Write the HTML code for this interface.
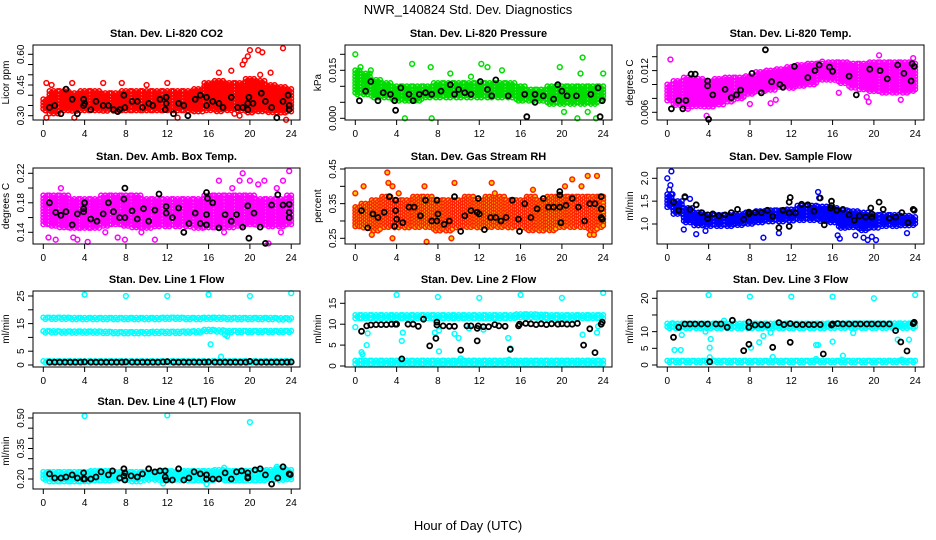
<!DOCTYPE html>
<html><head><meta charset="utf-8"><style>
html,body{margin:0;padding:0;background:#fff}
svg{display:block;font-family:"Liberation Sans",Arial,sans-serif}
</style></head><body>
<svg id="chart" width="936" height="540" viewBox="0 0 936 540">
<text x="468" y="14" text-anchor="middle" font-size="13">NWR_140824 Std. Dev. Diagnostics</text>
<text x="468" y="530" text-anchor="middle" font-size="13">Hour of Day (UTC)</text>
</svg>
<script>
// ---------- data ----------
const hours = [0,1,2,3,4,5,6,7,8,9,10,11,12,13,14,15,16,17,18,19,20,21,22,23,24];
const xTicks = [0,4,8,12,16,20,24];

const co2Lo = [0.32,0.31,0.32,0.32,0.32,0.32,0.32,0.32,0.32,0.32,0.32,0.32,0.32,0.32,0.32,0.32,0.32,0.32,0.32,0.32,0.31,0.32,0.31,0.31,0.32];
const co2Hi = [0.38,0.42,0.42,0.41,0.42,0.42,0.41,0.41,0.42,0.42,0.42,0.42,0.42,0.42,0.42,0.43,0.46,0.47,0.46,0.46,0.48,0.47,0.45,0.44,0.43];
const co2Out = [[0.3,0.46],[0.8,0.45],[2.8,0.46],[5.8,0.46],[7.6,0.46],[10,0.45],[12,0.46],[17,0.51],[18.2,0.52],[19.3,0.55],[19.5,0.57],[19.8,0.59],[20,0.62],[20.8,0.62],[21.2,0.61],[22,0.51],[23.2,0.63],[23.5,0.28],[0.3,0.29],[3,0.29],[13,0.29],[18.5,0.31],[19,0.3],[21,0.5]];
const co2Blk = [[0.6,0.34],[1.1,0.35],[1.7,0.31],[2.2,0.43],[2.8,0.38],[3.3,0.31],[3.9,0.38],[4,0.36],[3.9,0.35],[4.6,0.33],[5.1,0.37],[5.8,0.35],[6.3,0.35],[6.8,0.33],[7.2,0.32],[7.4,0.33],[7.8,0.40],[7.9,0.34],[8.6,0.37],[9.1,0.37],[9.6,0.34],[10.2,0.36],[10.6,0.35],[11.3,0.38],[11.9,0.39],[11.8,0.33],[11.9,0.36],[12.6,0.31],[13.1,0.36],[13.6,0.35],[14,0.30],[14.7,0.38],[15.2,0.40],[15.8,0.39],[15.8,0.35],[16.4,0.37],[17,0.36],[17.4,0.34],[18.2,0.39],[18.8,0.34],[19.3,0.34],[19.8,0.36],[19.8,0.33],[19.9,0.39],[20.3,0.36],[21.1,0.41],[21.5,0.37],[22.1,0.34],[22.6,0.29],[23.2,0.37],[23.7,0.40],[23.8,0.35],[23.8,0.33]];

const prLo = [0.007,0.007,0.006,0.006,0.005,0.005,0.005,0.006,0.006,0.006,0.006,0.006,0.006,0.006,0.006,0.006,0.005,0.005,0.005,0.004,0.004,0.004,0.004,0.004,0.005];
const prHi = [0.015,0.014,0.012,0.011,0.010,0.010,0.010,0.010,0.011,0.011,0.011,0.011,0.011,0.011,0.011,0.011,0.010,0.009,0.009,0.010,0.010,0.010,0.010,0.010,0.010];
const prOut = [[0,0.020],[0.5,0.016],[1.5,0.015],[4.8,0.0],[5.5,0.017],[7.4,0.0],[7.3,0.016],[9.2,0.014],[11.2,0.013],[12.2,0.017],[12.8,0.016],[14.2,0.015],[19.8,0.016],[22,0.019],[21.8,0.014],[23.3,0.0],[24,0.014],[20.2,0.002],[21.5,0.0],[22.5,0.002]];
const prBlk = [[0.4,0.0055],[1.0,0.0085],[1.5,0.0115],[2.2,0.0055],[2.7,0.008],[3.4,0.0075],[3.8,0.0055],[3.9,0.0025],[4.4,0.0095],[5.2,0.0075],[5.6,0.0055],[6.2,0.0075],[6.8,0.008],[7.4,0.0075],[8.3,0.0085],[9.2,0.0105],[9.6,0.0075],[10,0.009],[10.6,0.008],[11.2,0.0075],[12.1,0.0115],[12.8,0.009],[13.2,0.007],[13.6,0.012],[14.8,0.007],[16.4,0.0075],[16.6,0.0005],[17.4,0.0075],[17.4,0.005],[18.2,0.007],[19.2,0.006],[19.6,0.0105],[20,0.0085],[20.5,0.007],[21.4,0.007],[22.8,0.0075],[23.5,0.0095],[23.7,0.0005],[23.9,0.0055]];

const ltLo = [0.0075,0.0070,0.0068,0.0068,0.0068,0.0070,0.0075,0.0080,0.0085,0.0090,0.0092,0.0095,0.0095,0.0098,0.0100,0.0105,0.0105,0.0100,0.0095,0.0092,0.0090,0.0088,0.0088,0.0088,0.0090];
const ltHi = [0.0100,0.0105,0.0110,0.0108,0.0105,0.0108,0.0110,0.0110,0.0112,0.0118,0.0120,0.0122,0.0125,0.0128,0.0130,0.0130,0.0132,0.0132,0.0130,0.0130,0.0132,0.0132,0.0132,0.0132,0.0130];
const ltOut = [[0.3,0.0136],[3.8,0.0055],[4,0.0050],[2,0.0065],[8,0.0072],[10,0.0073],[10.5,0.0078],[14.6,0.0130],[15,0.0133],[19.3,0.0082],[19.5,0.0075],[20.5,0.0142],[23.8,0.0138],[22.6,0.0078],[16.6,0.0088]];
const ltBlk = [[0.4,0.0065],[1.1,0.0077],[1.8,0.0077],[1.5,0.0065],[2.3,0.0115],[2.7,0.0115],[3.9,0.0105],[3.9,0.0098],[4,0.0050],[4.4,0.0085],[5.6,0.0093],[6.2,0.0081],[6.7,0.0085],[7.1,0.0092],[8.2,0.0116],[9.1,0.0088],[9.5,0.0150],[10.1,0.0104],[10.9,0.0100],[11.2,0.0096],[12.3,0.0126],[13.6,0.0110],[14.3,0.0120],[14.7,0.0128],[15.7,0.0125],[16,0.0119],[17.6,0.0112],[18.3,0.0085],[19.6,0.0122],[20.6,0.0120],[21.3,0.0108],[22.3,0.0128],[22.9,0.0116],[23.6,0.0105],[23.7,0.0130],[23.9,0.0126]];

const abLo = [0.15,0.148,0.145,0.145,0.145,0.145,0.148,0.15,0.148,0.145,0.145,0.148,0.148,0.148,0.148,0.145,0.145,0.145,0.145,0.148,0.15,0.15,0.148,0.148,0.15];
const abHi = [0.19,0.19,0.19,0.185,0.185,0.185,0.19,0.19,0.19,0.19,0.185,0.185,0.185,0.185,0.185,0.185,0.19,0.19,0.19,0.19,0.19,0.185,0.185,0.185,0.19];
const abOut = [[0.5,0.133],[1.2,0.13],[2.9,0.133],[3.3,0.13],[4.3,0.127],[6,0.14],[7.2,0.133],[7.9,0.13],[9.5,0.14],[10.8,0.13],[17,0.21],[19,0.21],[19.3,0.22],[20,0.21],[20.8,0.205],[21.4,0.21],[23.2,0.21],[23.8,0.223],[22.6,0.2],[21.8,0.125],[23,0.14],[17.5,0.14],[18.3,0.2],[1.7,0.2]];
const abBlk = [[0.6,0.18],[1.2,0.167],[1.7,0.163],[2.2,0.168],[2.8,0.15],[3.3,0.165],[3.9,0.168],[3.9,0.172],[4.0,0.18],[4.6,0.158],[5.2,0.155],[5.8,0.165],[6.3,0.18],[6.8,0.168],[7.4,0.16],[7.9,0.2],[7.8,0.185],[7.9,0.16],[8.6,0.169],[9.1,0.158],[9.7,0.172],[10.2,0.155],[10.8,0.17],[11.2,0.192],[11.9,0.175],[11.9,0.166],[12.5,0.16],[13.1,0.173],[13.6,0.14],[14.1,0.152],[14.7,0.166],[15.2,0.152],[15.8,0.15],[15.8,0.164],[15.9,0.186],[15.8,0.194],[16.4,0.18],[17,0.146],[17.6,0.164],[18.2,0.155],[18.7,0.164],[19.3,0.147],[19.8,0.176],[19.9,0.132],[20.4,0.166],[21.0,0.147],[21.5,0.125],[22.1,0.177],[22.7,0.191],[23.2,0.177],[23.8,0.178],[23.8,0.167],[23.8,0.16]];

const rhLo = [0.28,0.28,0.27,0.28,0.28,0.28,0.28,0.28,0.27,0.27,0.28,0.28,0.28,0.28,0.28,0.28,0.28,0.27,0.27,0.27,0.28,0.28,0.28,0.27,0.28];
const rhHi = [0.34,0.35,0.36,0.37,0.36,0.36,0.37,0.37,0.36,0.36,0.36,0.37,0.36,0.37,0.37,0.36,0.36,0.37,0.36,0.37,0.37,0.37,0.37,0.37,0.37];
const rhOut = [[0,0.38],[0.8,0.40],[3.1,0.44],[3.2,0.41],[3.6,0.40],[4.2,0.38],[6.7,0.40],[9.6,0.41],[13.2,0.41],[13.5,0.38],[17.2,0.39],[20.3,0.40],[21,0.42],[21.9,0.40],[22.5,0.43],[23.4,0.43],[3.6,0.25],[6.9,0.24],[9.3,0.25],[22.7,0.26],[23.1,0.26],[1.6,0.26]];
const rhBlk = [[0.6,0.33],[1.2,0.28],[1.7,0.32],[2.2,0.31],[2.8,0.325],[3.3,0.37],[3.9,0.36],[3.9,0.33],[4.0,0.305],[3.8,0.285],[4.6,0.295],[5.2,0.34],[5.7,0.34],[6.3,0.315],[6.8,0.36],[7.4,0.30],[7.9,0.36],[8,0.32],[7.9,0.30],[8.6,0.29],[9.1,0.30],[9.6,0.37],[10.2,0.27],[10.6,0.315],[11.2,0.33],[11.8,0.325],[12,0.32],[11.9,0.365],[12.5,0.275],[13.1,0.31],[13.6,0.31],[14.1,0.30],[14.6,0.31],[15.2,0.36],[15.8,0.305],[15.9,0.27],[16.4,0.35],[17.0,0.31],[17.6,0.335],[18.2,0.365],[18.7,0.34],[19.2,0.34],[19.8,0.385],[19.8,0.375],[19.8,0.34],[19.9,0.295],[20.4,0.345],[21,0.365],[21.6,0.34],[22.2,0.30],[22.7,0.35],[23.2,0.35],[23.8,0.37],[23.8,0.31],[23.8,0.335],[23.9,0.305]];

const sfLo = [1.35,1.2,1.0,0.95,0.95,0.95,0.95,0.95,0.98,1.0,1.02,1.02,1.05,1.05,1.05,1.05,1.0,0.9,0.9,0.85,0.9,0.92,0.95,0.95,0.95];
const sfHi = [1.65,1.5,1.35,1.25,1.2,1.2,1.2,1.22,1.25,1.28,1.3,1.3,1.32,1.4,1.4,1.38,1.35,1.3,1.28,1.25,1.2,1.2,1.2,1.18,1.15];
const sfOut = [[0,2.0],[0.4,2.15],[0.3,1.85],[0.2,1.75],[0.5,1.65],[1.7,1.58],[2.2,1.55],[1.6,0.88],[2.8,0.78],[3.7,0.85],[9.3,0.7],[10.8,0.8],[14.6,1.7],[14.7,1.57],[16.5,0.75],[16.7,0.68],[18.2,0.75],[19.0,0.7],[19.4,0.65],[20.2,0.65],[19.8,0.72],[23.2,0.8]];
const sfBlk = [[0.6,1.48],[1.1,1.3],[1.7,1.6],[2.2,1.32],[2.8,1.42],[3.3,1.25],[3.9,1.2],[3.9,1.12],[4.4,1.22],[5.0,1.18],[5.6,1.2],[6.2,1.25],[6.8,1.32],[7.4,1.1],[7.9,1.26],[7.9,1.22],[8.5,1.25],[9.1,1.25],[9.7,1.3],[10.2,1.17],[10.8,0.92],[11.2,1.3],[11.9,1.58],[11.8,1.48],[11.8,1.24],[11.8,0.95],[12.4,1.24],[13.0,1.43],[13.6,1.42],[14.2,1.28],[14.8,1.57],[15.2,0.98],[15.8,1.35],[15.9,1.4],[15.9,1.5],[16.4,1.3],[17,1.32],[17.6,1.2],[18.1,1.08],[18.6,1.18],[19.2,1.15],[19.7,1.35],[19.8,1.22],[19.8,1.15],[20.5,1.48],[20.9,1.32],[21.5,1.13],[22.1,1.15],[22.7,1.25],[23.3,1.03],[23.8,1.32],[23.9,1.3]];

const l1TopLo = [16.2,16.2,16.2,16.2,16.2,16.2,16.2,16.2,16.2,16.2,16.2,16.2,16.2,16.2,16.2,16.2,16.3,16.2,16.2,16.2,16.2,16.2,16.2,16.2,16.2];
const l1TopHi = [17.2,17.2,17.2,17.1,17.1,17.1,17.1,17.1,17.1,17.1,17.1,17.1,17.2,17.2,17.1,17.1,17.2,17.2,17.1,17.1,17.1,17.1,17.1,17.0,17.0];
const l1MidLo = [11.3,11.3,11.2,11.2,11.2,11.2,11.2,11.1,11.1,11.1,11.1,11.1,11.2,11.2,11.2,11.3,11.8,11.5,11.4,11.4,11.4,11.5,11.5,11.5,11.5];
const l1MidHi = [12.3,12.3,12.2,12.2,12.2,12.2,12.1,12.0,12.0,12.0,12.0,12.1,12.1,12.1,12.2,12.3,12.8,12.6,12.4,12.4,12.4,12.4,12.4,12.4,12.4];
const l1BotLo = [0.6,0.6,0.6,0.6,0.6,0.6,0.6,0.6,0.6,0.6,0.6,0.6,0.6,0.6,0.6,0.6,0.6,0.6,0.6,0.6,0.6,0.6,0.6,0.6,0.6];
const l1BotHi = [1.4,1.4,1.4,1.4,1.4,1.4,1.4,1.4,1.4,1.4,1.4,1.4,1.4,1.4,1.4,1.4,1.4,1.4,1.4,1.4,1.4,1.4,1.4,1.4,1.4];
const l1Out = [[4,25.5],[8,25],[12,25],[16,25.5],[20,25],[24,26],[16.2,7.5],[17.2,3],[17.6,11],[17.8,10.5]];
const l1BlkX = [0.6,1.1,1.6,2.1,2.6,3.1,3.6,4.0,4.6,5.1,5.6,6.1,6.6,7.1,7.6,8.0,8.6,9.1,9.6,10.1,10.6,11.1,11.6,12.0,12.6,13.1,13.6,14.1,14.6,15.1,15.6,16.0,16.6,17.1,17.6,18.1,18.6,19.1,19.6,20.0,20.6,21.1,21.6,22.1,22.6,23.1,23.6,24.0];
const l1BlkY = [1.0,1.0,1.0,1.0,1.0,1.0,1.0,1.1,1.0,1.0,1.0,1.0,1.0,1.0,1.0,1.1,1.0,1.0,1.0,1.0,1.0,1.0,1.1,1.2,1.0,1.0,1.0,1.0,1.0,1.0,1.0,1.1,1.0,1.0,1.0,1.0,1.0,1.0,1.0,1.3,1.0,1.0,1.0,1.0,1.0,1.0,1.0,1.1];

const l2TopLo = [11.3,11.3,11.3,11.3,11.3,11.3,11.3,11.3,11.3,11.3,11.3,11.3,11.3,11.3,11.3,11.3,11.4,11.4,11.4,11.3,11.3,11.3,11.3,11.3,11.3];
const l2TopHi = [12.2,12.2,12.2,12.2,12.2,12.2,12.2,12.2,12.2,12.2,12.2,12.2,12.2,12.2,12.2,12.2,12.4,12.4,12.3,12.2,12.2,12.2,12.2,12.2,12.2];
const l2BotLo = [0.5,0.5,0.5,0.5,0.5,0.5,0.5,0.5,0.5,0.5,0.5,0.5,0.5,0.5,0.5,0.5,0.5,0.5,0.5,0.5,0.5,0.5,0.5,0.5,0.5];
const l2BotHi = [1.3,1.3,1.3,1.3,1.3,1.3,1.3,1.3,1.3,1.3,1.3,1.3,1.3,1.3,1.3,1.3,1.3,1.3,1.3,1.3,1.3,1.3,1.3,1.3,1.3];
const l2Out = [[4,17],[8,16.5],[12,16.3],[16,17],[20,16.3],[24,17.5],[0,9.3],[0.6,3.3],[0.7,2.8],[1.1,5],[1.2,7.8],[4.5,6],[4.6,8],[7.7,8],[8.1,8.5],[8.1,3.5],[10,6.7],[9.6,7.7],[10.2,1.8],[11,9],[12.4,8.7],[14.8,6.7],[15.0,4.2],[14.9,1.5],[20,1.3],[22,7.5],[23.4,8],[23.5,9.5]];
const l2Blk = [[0.6,8.3],[1.1,9.6],[1.5,9.8],[2,9.9],[2.5,9.9],[3,9.9],[3.5,10],[3.9,10],[4,10],[4.5,1.7],[5.1,10],[5.6,10],[6.1,9.5],[6.6,11.2],[7.2,4.8],[7.8,6.6],[7.9,10.5],[7.9,9.8],[8.5,9.6],[9.1,9.5],[9.6,9.5],[10.2,3.8],[10.8,9.6],[11.2,9.6],[11.8,6],[11.8,9],[11.9,9.6],[12.4,9.4],[12.9,9.4],[13.5,9.9],[13.9,9.6],[14.5,9.5],[15.0,4],[15.8,9.6],[15.9,10],[16.5,10.2],[17,10.1],[17.5,9.9],[18,10.1],[18.5,9.9],[19,10.1],[19.6,10.0],[20,10.1],[20.5,10.0],[21,10.0],[21.5,10.2],[22.1,5],[22.7,8.9],[23.2,3.2],[23.8,10],[23.9,10.5]];

const l3TopLo = [10.8,10.8,10.8,10.8,10.8,10.8,10.8,10.8,10.8,10.8,10.8,10.8,10.8,10.8,10.8,10.8,10.8,10.8,10.8,10.8,10.8,10.8,10.8,10.8,10.8];
const l3TopHi = [12.4,12.4,12.4,12.4,12.4,12.4,12.4,12.4,12.4,12.4,12.4,12.4,12.4,12.4,12.4,12.4,12.5,12.5,12.5,12.5,12.5,12.5,12.5,12.5,12.5];
const l3BotLo = [0.5,0.5,0.5,0.5,0.5,0.5,0.5,0.5,0.5,0.5,0.5,0.5,0.5,0.5,0.5,0.5,0.5,0.5,0.5,0.5,0.5,0.5,0.5,0.5,0.5];
const l3BotHi = [1.3,1.3,1.3,1.3,1.3,1.3,1.3,1.3,1.3,1.3,1.3,1.3,1.3,1.3,1.3,1.3,1.3,1.3,1.3,1.3,1.3,1.3,1.3,1.3,1.3];
const l3Out = [[4,21],[8,20.5],[12,20.5],[16,20.5],[20,20],[24,21],[0.5,12.5],[0.7,4.5],[1.3,4.5],[1.4,9],[3.7,10],[4.1,5.2],[4.2,7.8],[4.1,2.3],[5.5,13.3],[8.1,5.2],[8.9,6.8],[9.3,8.7],[10,9.7],[10.2,2.4],[14.4,6],[14.6,6],[14.4,1.8],[16,7],[17,2.8],[18,9.6],[22.3,7.6],[22.7,1.6],[23.4,7.6],[22.7,12]];
const l3Blk = [[0.6,8.3],[1.1,11.3],[1.7,12.3],[2.2,12.3],[2.7,12.3],[3.3,12.3],[3.9,12.3],[4.1,1],[4.7,12.3],[5.2,12.3],[5.8,11.3],[6.3,13.4],[7.4,4.3],[7.9,12.9],[7.9,11.3],[7.9,6.2],[8.5,12],[9.1,12.1],[9.7,12],[10.2,5.3],[10.8,12.7],[11.3,12.1],[11.9,12.4],[11.9,6.8],[12.5,12.1],[13.1,12.1],[13.7,12.1],[14.2,12.1],[14.8,12.1],[15.1,3.3],[15.9,12],[16,12.3],[16.5,12.4],[17,12.3],[17.6,12.3],[18.2,12.3],[18.7,12.3],[19.3,12.3],[19.8,12.3],[20.4,12.3],[20.9,12.3],[21.5,12.3],[22.1,10.3],[22.6,6.9],[23.2,4.2],[23.8,12.4],[23.9,12.8]];

const l4Lo = [0.19,0.185,0.185,0.185,0.185,0.19,0.19,0.19,0.19,0.185,0.19,0.19,0.185,0.19,0.19,0.185,0.19,0.19,0.19,0.19,0.185,0.19,0.19,0.19,0.195];
const l4Hi = [0.235,0.235,0.235,0.235,0.235,0.24,0.24,0.235,0.235,0.235,0.235,0.235,0.24,0.235,0.24,0.24,0.24,0.245,0.24,0.24,0.24,0.24,0.245,0.25,0.245];
const l4Out = [[4,0.51],[12,0.513],[20,0.48],[17.5,0.255],[22.6,0.26],[15.8,0.175],[22.1,0.175],[11.6,0.178]];
const l4Blk = [[0.6,0.225],[1.1,0.205],[1.7,0.205],[2.2,0.21],[2.8,0.22],[3.3,0.205],[3.9,0.2],[3.9,0.23],[4,0.2],[4.6,0.2],[5.1,0.21],[5.6,0.235],[6.3,0.22],[6.7,0.24],[7.4,0.205],[7.9,0.195],[7.8,0.215],[7.9,0.23],[7.8,0.25],[8.5,0.215],[9.1,0.21],[9.6,0.225],[10.2,0.25],[10.8,0.235],[11.3,0.24],[11.8,0.24],[11.8,0.21],[11.9,0.195],[12.5,0.195],[13.1,0.25],[13.6,0.195],[14.1,0.205],[14.6,0.235],[15.2,0.225],[15.8,0.22],[15.8,0.2],[16.4,0.2],[17,0.2],[17.6,0.23],[18.2,0.2],[18.7,0.235],[19.2,0.24],[19.8,0.23],[19.8,0.21],[19.8,0.205],[20.5,0.245],[21,0.25],[21.5,0.22],[22.1,0.175],[22.7,0.205],[23.2,0.26],[23.8,0.225],[23.9,0.222]];

const co2Ticks=[0.30,0.35,0.40,0.45,0.50,0.55,0.60], co2Labels=["0.30","0.45","0.60"];
const prTicks=[0,0.005,0.010,0.015,0.020], prLabels=["0.000","0.015"];
const ltTicks=[0.006,0.008,0.010,0.012,0.014], ltLabels=["0.006","0.012"];
const abTicks=[0.14,0.16,0.18,0.20,0.22], abLabels=["0.14","0.18","0.22"];
const rhTicks=[0.25,0.30,0.35,0.40,0.45], rhLabels=["0.25","0.35","0.45"];
const sfTicks=[1.0,1.5,2.0], sfLabels=["1.0","1.5","2.0"];
const l1Ticks=[0,5,10,15,20,25], l1Labels=["0","5","15","25"];
const l2Ticks=[0,5,10,15], l2Labels=["0","5","10","15"];
const l3Ticks=[0,5,10,15,20], l3Labels=["0","5","10","20"];
const l4Ticks=[0.20,0.25,0.30,0.35,0.40,0.45,0.50], l4Labels=["0.20","0.35","0.50"];

// ---------- drawing ----------
const NS="http://www.w3.org/2000/svg";
const svg=document.getElementById('chart');
function mk(tag,attrs,parent){const e=document.createElementNS(NS,tag);for(const k in attrs)e.setAttribute(k,attrs[k]);(parent||svg).appendChild(e);return e;}

const panels=[
 {name:'co2',col:0,row:0,title:'Stan. Dev. Li-820 CO2',ylab:'Licor ppm',r:[0.30,0.60,115.7,54.3],ticks:co2Ticks,labels:co2Labels,color:'#ff0000',bands:[[co2Lo,co2Hi]],out:co2Out,blk:co2Blk},
 {name:'pressure',col:1,row:0,title:'Stan. Dev. Li-820 Pressure',ylab:'kPa',r:[0,0.020,118.3,54.3],ticks:prTicks,labels:prLabels,color:'#00dd00',bands:[[prLo,prHi]],out:prOut,blk:prBlk},
 {name:'licor-temp',col:2,row:0,title:'Stan. Dev. Li-820 Temp.',ylab:'degrees C',r:[0.006,0.014,112.3,56.7],ticks:ltTicks,labels:ltLabels,color:'#ff00ff',bands:[[ltLo,ltHi]],out:ltOut,blk:ltBlk},
 {name:'amb-box-temp',col:0,row:1,title:'Stan. Dev. Amb. Box Temp.',ylab:'degrees C',r:[0.14,0.22,232.3,173.3],ticks:abTicks,labels:abLabels,color:'#ff00ff',bands:[[abLo,abHi]],out:abOut,blk:abBlk},
 {name:'gas-rh',col:1,row:1,title:'Stan. Dev. Gas Stream RH',ylab:'percent',r:[0.25,0.45,238.3,169],ticks:rhTicks,labels:rhLabels,color:'#ff2200',fill:'#ffcc00',bands:[[rhLo,rhHi]],out:rhOut,blk:rhBlk},
 {name:'sample-flow',col:2,row:1,title:'Stan. Dev. Sample Flow',ylab:'ml/min',r:[1.0,2.0,224,178.3],ticks:sfTicks,labels:sfLabels,color:'#0000ff',bands:[[sfLo,sfHi]],out:sfOut,blk:sfBlk},
 {name:'line1-flow',col:0,row:2,title:'Stan. Dev. Line 1 Flow',ylab:'ml/min',r:[0,25,365,296],ticks:l1Ticks,labels:l1Labels,color:'#00ffff',bands:[[l1TopLo,l1TopHi],[l1MidLo,l1MidHi],[l1BotLo,l1BotHi]],out:l1Out,blk:l1BlkX.map((x,i)=>[x,l1BlkY[i]])},
 {name:'line2-flow',col:1,row:2,title:'Stan. Dev. Line 2 Flow',ylab:'ml/min',r:[0,15,366,303.3],ticks:l2Ticks,labels:l2Labels,color:'#00ffff',bands:[[l2TopLo,l2TopHi],[l2BotLo,l2BotHi]],out:l2Out,blk:l2Blk},
 {name:'line3-flow',col:2,row:2,title:'Stan. Dev. Line 3 Flow',ylab:'ml/min',r:[0,20,365,298.3],ticks:l3Ticks,labels:l3Labels,color:'#00ffff',bands:[[l3TopLo,l3TopHi],[l3BotLo,l3BotHi]],out:l3Out,blk:l3Blk},
 {name:'line4-flow',col:0,row:3,title:'Stan. Dev. Line 4 (LT) Flow',ylab:'ml/min',r:[0.20,0.50,479,418],ticks:l4Ticks,labels:l4Labels,color:'#00ffff',bands:[[l4Lo,l4Hi]],out:l4Out,blk:l4Blk}
];
const rowTop=[45,168,291,413];

panels.forEach(p=>{
  const bx=33+p.col*312, bw=267, by=rowTop[p.row], bh=p.row===0?75:76;
  const g=mk('g',{});
  
  
  const X=h=>bx+10.3+h*10.33;
  const Y=v=>p.r[2]+(v-p.r[0])*(p.r[3]-p.r[2])/(p.r[1]-p.r[0]);
  const t=mk('text',{x:bx+bw/2,y:by-8,'text-anchor':'middle','font-size':'11','font-weight':'bold'},g);
  t.textContent=p.title;
  
  
  const pts=mk('g',{fill:p.fill||'none',stroke:p.color,'stroke-width':'1.5'},g);
  
  
  p.bands.forEach(([lo,hi])=>{
    hours.forEach((h,i)=>{
      [-0.4,-0.2,0,0.2,0.4].forEach((dx,k)=>{
        const hx=h+dx; if(hx<-0.1||hx>24.1) return;
        const y1=Y(hi[i]), y0=Y(lo[i]);
        for(let y=y1+(k%2)*1.6;y<=y0;y+=3.2){
          const c=mk('circle',{cx:X(hx).toFixed(1),cy:y.toFixed(1),r:2.3},pts);
          
          
        }
      });
    });
  });
  p.out.forEach(([h,v])=>{
    const c=mk('circle',{cx:X(h).toFixed(1),cy:Y(v).toFixed(1),r:2.4},pts);
    
    
  });
  const bk=mk('g',{fill:'none',stroke:'#000','stroke-width':'1.8'},g);
  
  
  p.blk.forEach(([h,v])=>{
    const c=mk('circle',{cx:X(h).toFixed(1),cy:Y(v).toFixed(1),r:2.5},bk);
    
    
  });
  const box=mk('rect',{x:bx,y:by,width:bw,height:bh,fill:'none',stroke:'#000','stroke-width':'1'},g);
  
  
  const xa=mk('g',{stroke:'#000','stroke-width':'1'},g);
  
  
  xTicks.forEach(h=>{
    mk('line',{x1:X(h),x2:X(h),y1:by+bh,y2:by+bh+5},xa);
    const tl=mk('text',{x:X(h),y:by+bh+17,'text-anchor':'middle','font-size':'10',stroke:'none',fill:'#000'},g);
    tl.textContent=h;
    
    
  });
  const ya=mk('g',{stroke:'#000','stroke-width':'1'},g);
  
  
  p.ticks.forEach(v=>{ mk('line',{x1:bx-5,x2:bx,y1:Y(v),y2:Y(v)},ya); });
  p.labels.forEach(s=>{
    const v=parseFloat(s), lx=bx-9, ly=Y(v);
    const tl=mk('text',{x:lx,y:ly,'text-anchor':'middle','font-size':'10',transform:`rotate(-90 ${lx} ${ly})`},g);
    tl.textContent=s;
    
    
  });
  const yl=bx-24, ym=by+bh/2;
  const yt=mk('text',{x:yl,y:ym,'text-anchor':'middle','font-size':'10',transform:`rotate(-90 ${yl} ${ym})`},g);
  yt.textContent=p.ylab;
  
  
});
</script>
</body></html>
